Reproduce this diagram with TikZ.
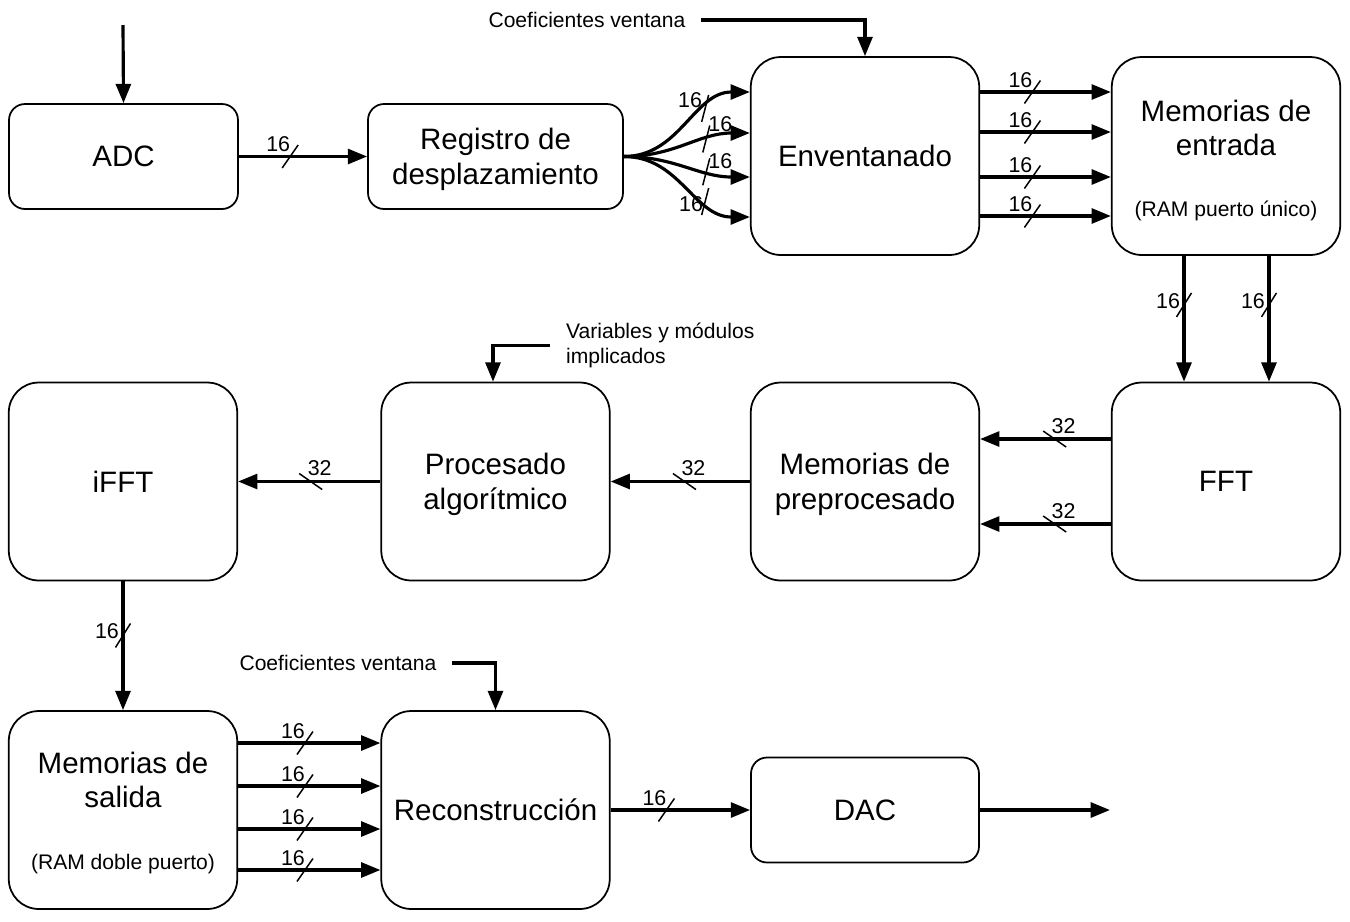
\documentclass[tikz,border=0pt]{standalone}
\usepackage{fontspec}
\setmainfont{Liberation Sans}
\usetikzlibrary{arrows.meta}
\newcommand\myBig{\fontsize{16.8}{19.8}\selectfont}
\newcommand\mySmall{\fontsize{12}{14.2}\selectfont}
\newcommand\myLbl{\fontsize{12.2}{14}\selectfont}
\begin{document}
\begin{tikzpicture}[x=0.02cm,y=-0.02cm,
  sbox/.style={draw, line width=1pt, rounded corners=0.32cm, inner sep=0pt, align=center, font=\myBig},
  lbox/.style={draw, line width=1pt, rounded corners=0.6cm, inner sep=0pt, align=center, font=\myBig,
               minimum width=4.57cm, minimum height=3.96cm},
  mline/.style={text depth=0pt},
  txt/.style={inner sep=1pt, align=center},
  arr/.style={line width=1.8pt, -{Triangle[length=11pt,width=8.5pt]}},
  slashline/.style={line width=0.85pt, arrows=-, solid},
  lbl/.style={font=\myLbl, inner sep=0pt},
  pics/busR/.style={code={\draw[slashline] (-8,11.5) -- (8,-11.5); \node[lbl] (-t) at (-12,-12) {#1};}},
  pics/busL/.style={code={\draw[slashline] (-11.5,-8) -- (11.5,8); \node[lbl] (-t) at (9,-13) {#1};}},
  pics/busD/.style={code={\draw[slashline] (-7.5,12) -- (7.5,-12); \node[lbl] (-t) at (-16,-4) {#1};}},
  pics/busF/.style n args={3}{code={\draw[slashline] (-3.5,13.5) -- (3.5,-13.5); \node[lbl] (-t) at (#1,#2) {#3};}}
]
\useasboundingbox (0,0) rectangle (1350,921);
\fill[white] (0,0) rectangle (1350,921);

% row 1
\node[sbox, minimum width=4.58cm, minimum height=2.1cm] (adc) at (123.5,156.5) {ADC};
\node[sbox, mline, minimum width=5.1cm, minimum height=2.1cm] (reg) at (495.5,156.5) {Registro de\\desplazamiento};
\node[lbox] (env) at (865,156) {Enventanado};
\node[lbox] (memin) at (1226,156) {};
\node[txt, font=\myBig] (memint) at (1226,128) {Memorias de\\entrada};
\node[txt, font=\mySmall] (meminsub) at (1226,211) {(RAM puerto único)};

% row 2
\node[lbox] (ifft) at (123,481.5) {iFFT};
\node[lbox, mline] (proc) at (495.5,481.5) {Procesado\\algorítmico};
\node[lbox, mline] (preproc) at (865,481.5) {Memorias de\\preprocesado};
\node[lbox] (fft) at (1226,481.5) {FFT};

% row 3
\node[lbox] (memout) at (123,810) {};
\node[txt, font=\myBig] (memoutt) at (123,780) {Memorias de\\salida};
\node[txt, font=\mySmall] (memoutsub) at (123,864) {(RAM doble puerto)};
\node[lbox] (rec) at (495.5,810) {Reconstrucción};
\node[sbox, minimum width=4.56cm, minimum height=2.1cm] (dac) at (865,810) {DAC};

% side texts
\node[txt, font=\mySmall] (coef1) at (587,20) {Coeficientes ventana};
\node[txt, font=\mySmall] (coef2) at (338,663) {Coeficientes ventana};
\node[txt, font=\mySmall, align=left, anchor=west] (vars) at (564,345.5) {Variables y módulos\\implicados};
\coordinate (in) at (123,25);
\coordinate (out) at (1110,810);

% connectors row 1
\draw[arr] (in) -- (adc.north);
\draw[arr] (adc) -- (reg) pic[pos=.40] (b1) {busR=16};
\draw[arr] (reg.east) .. controls +(56,0) and +(-56,0) .. ([yshift=1.28cm]env.west) pic[pos=.67] (f1) {busF={-15}{-8}{16}};
\draw[arr] (reg.east) .. controls +(51,0) and +(-51,0) .. ([yshift=0.46cm]env.west) pic[pos=.67] (f2) {busF={14}{-15}{16}};
\draw[arr] (reg.east) .. controls +(51,0) and +(-51,0) .. ([yshift=-0.42cm]env.west) pic[pos=.67] (f3) {busF={14}{-11}{16}};
\draw[arr] (reg.east) .. controls +(56,0) and +(-56,0) .. ([yshift=-1.22cm]env.west) pic[pos=.67] (f4) {busF={-14}{3}{16}};
\draw[arr] ([xshift=0.26cm]coef1.east) -| (env.north);
\draw[arr] ([yshift=1.28cm]env.east) -- ([yshift=1.28cm]memin.west) pic[pos=.40] (e1) {busR=16};
\draw[arr] ([yshift=0.48cm]env.east) -- ([yshift=0.48cm]memin.west) pic[pos=.40] (e2) {busR=16};
\draw[arr] ([yshift=-0.42cm]env.east) -- ([yshift=-0.42cm]memin.west) pic[pos=.40] (e3) {busR=16};
\draw[arr] ([yshift=-1.2cm]env.east) -- ([yshift=-1.2cm]memin.west) pic[pos=.40] (e4) {busR=16};

% row 1 -> row 2
\draw[arr] ([xshift=-0.84cm]memin.south) -- ([xshift=-0.84cm]fft.north) pic[pos=.39] (d1) {busD=16};
\draw[arr] ([xshift=0.86cm]memin.south) -- ([xshift=0.86cm]fft.north) pic[pos=.39] (d2) {busD=16};

% row 2
\draw[arr] ([yshift=0.85cm]fft.west) -- ([yshift=0.85cm]preproc.east) pic[pos=.43] (l1) {busL=32};
\draw[arr] ([yshift=-0.85cm]fft.west) -- ([yshift=-0.85cm]preproc.east) pic[pos=.43] (l2) {busL=32};
\draw[arr] (preproc) -- (proc) pic[pos=.47] (l3) {busL=32};
\draw[arr] (proc) -- (ifft) pic[pos=.49] (l4) {busL=32};
\draw[arr] ([xshift=-0.28cm]vars.west) -| ([xshift=-0.05cm]proc.north);

% row 2 -> row 3
\draw[arr] (ifft) -- (memout) pic[pos=.42] (d3) {busD=16};

% row 3
\draw[arr] ([xshift=0.26cm]coef2.east) -| (rec.north);
\draw[arr] ([yshift=1.34cm]memout.east) -- ([yshift=1.34cm]rec.west) pic[pos=.47] (r1) {busR=16};
\draw[arr] ([yshift=0.48cm]memout.east) -- ([yshift=0.48cm]rec.west) pic[pos=.47] (r2) {busR=16};
\draw[arr] ([yshift=-0.38cm]memout.east) -- ([yshift=-0.38cm]rec.west) pic[pos=.47] (r3) {busR=16};
\draw[arr] ([yshift=-1.2cm]memout.east) -- ([yshift=-1.2cm]rec.west) pic[pos=.47] (r4) {busR=16};
\draw[arr] (rec) -- (dac) pic[pos=.40] (b2) {busR=16};
\draw[arr] (dac) -- (out);
\end{tikzpicture}
\end{document}
